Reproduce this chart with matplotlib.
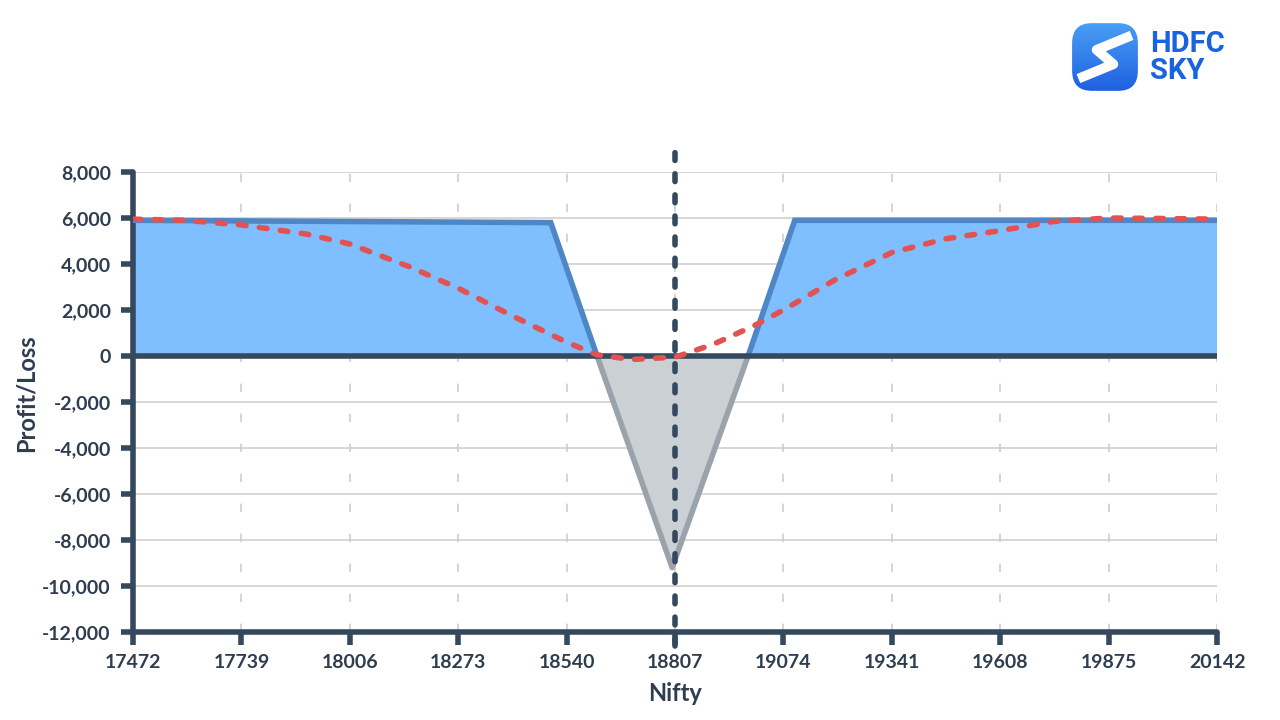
import numpy as np
import matplotlib.pyplot as plt
from matplotlib.patches import FancyBboxPatch

# payoff at expiry
nifty = np.array([17472, 18501, 18615, 18800, 18987, 19102, 20142])
payoff = np.array([5900, 5800, 0, -9200, 0, 5900, 5900])

# current (T+0) curve
t0_x = [17472, 17600, 17739, 17900, 18006, 18150, 18273, 18400, 18540, 18615,
        18700, 18807, 18900, 19000, 19074, 19200, 19341, 19475, 19608, 19740,
        19875, 20000, 20142]
t0_y = [5950, 5900, 5700, 5300, 4870, 3900, 2950, 1800, 600, 50,
        -150, -50, 500, 1300, 2000, 3300, 4500, 5100, 5450, 5850,
        6000, 5980, 5950]

spot = 18807
x_ticks = [17472, 17739, 18006, 18273, 18540, 18807, 19074, 19341, 19608, 19875, 20142]
y_ticks = [8000, 6000, 4000, 2000, 0, -2000, -4000, -6000, -8000, -10000, -12000]

dark = '#34495e'
txt = '#2e3d4f'

fig = plt.figure(figsize=(12.8, 7.2), dpi=100)
ax = fig.add_axes([0.1039, 0.1222, 0.8469, 0.6389])

ax.set_xlim(17472, 20142)
ax.set_ylim(-12000, 8000)

# grid
for yt in y_ticks:
    ax.axhline(yt, color='#cfcfcf', lw=1.2, zorder=0)
for xt in x_ticks:
    ax.axvline(xt, color='#cdcdcd', lw=1.2, ls=(0, (5, 13)), zorder=0)

# fills
ax.fill_between(nifty, payoff, 0, where=payoff >= 0, interpolate=True,
                color='#80bfff', zorder=1, lw=0)
ax.fill_between(nifty, payoff, 0, where=payoff <= 0, interpolate=True,
                color='#cbd0d5', zorder=1, lw=0)

pos = np.where(payoff >= 0, payoff, np.nan)
neg = np.where(payoff <= 0, payoff, np.nan)
ax.plot(nifty, pos, color='#4f86c6', lw=4, zorder=3, solid_joinstyle='miter')
ax.plot(nifty, neg, color='#9aa2ab', lw=4, zorder=3)

# zero line
ax.axhline(0, color=dark, lw=4, zorder=4)

# T+0 curve
ax.plot(t0_x, t0_y, color='#e25252', lw=4, ls=(0, (1.4, 2.4)),
        dash_capstyle='round', zorder=5)

# spot line
ax.plot([spot, spot], [-12600, 8850], color=dark, lw=4, ls=(0, (1.4, 2.4)),
        dash_capstyle='round', zorder=6, clip_on=False)

# spines and ticks
for s in ['top', 'right']:
    ax.spines[s].set_visible(False)
for s in ['left', 'bottom']:
    ax.spines[s].set_color(dark)
    ax.spines[s].set_linewidth(4)
    ax.spines[s].set_capstyle('round')

ax.set_xticks(x_ticks)
ax.set_yticks(y_ticks)
ax.set_yticklabels([f'{v:,}' for v in y_ticks])
ax.tick_params(axis='both', length=9, width=4, color=dark, labelcolor=txt,
               labelsize=14, pad=7)
for lab in ax.get_xticklabels() + ax.get_yticklabels():
    lab.set_fontfamily('Lato')
    lab.set_fontweight('bold')

ax.set_xlabel('Nifty', fontsize=17, fontweight='bold', color=txt,
              family='Lato', labelpad=8)
ax.set_ylabel('Profit/Loss', fontsize=17, fontweight='bold', color=txt,
              family='Lato')
ax.yaxis.set_label_coords(-0.088, 0.52)

# logo
lax = fig.add_axes([1070 / 1280, 1 - 93 / 720, 70 / 1280, 72 / 720])
lax.set_xlim(0, 1)
lax.set_ylim(0, 1)
lax.axis('off')
grad = np.linspace(0, 1, 100).reshape(-1, 1)
img = lax.imshow(grad, extent=[0, 1, 0, 1], cmap=plt.matplotlib.colors.LinearSegmentedColormap.from_list(
    'g', ['#1e5ee0', '#4aa0f5']), origin='lower', aspect='auto')
box = FancyBboxPatch((0.03, 0.03), 0.94, 0.94, boxstyle='round,pad=0,rounding_size=0.28',
                     transform=lax.transAxes, facecolor='none', edgecolor='none')
lax.add_patch(box)
img.set_clip_path(box)
lax.plot([0.88, 0.38, 0.62, 0.12], [0.8, 0.6, 0.4, 0.2], color='white', lw=7,
         solid_capstyle='butt', solid_joinstyle='round')
fig.text(1150 / 1280, 1 - 44 / 720, 'HDFC', fontsize=21, fontweight='bold',
         color='#1a63e0', family='Roboto', va='center')
fig.text(1150 / 1280, 1 - 71 / 720, 'SKY', fontsize=21, fontweight='bold',
         color='#1a63e0', family='Roboto', va='center')

fig.savefig('out.png', dpi=100)
